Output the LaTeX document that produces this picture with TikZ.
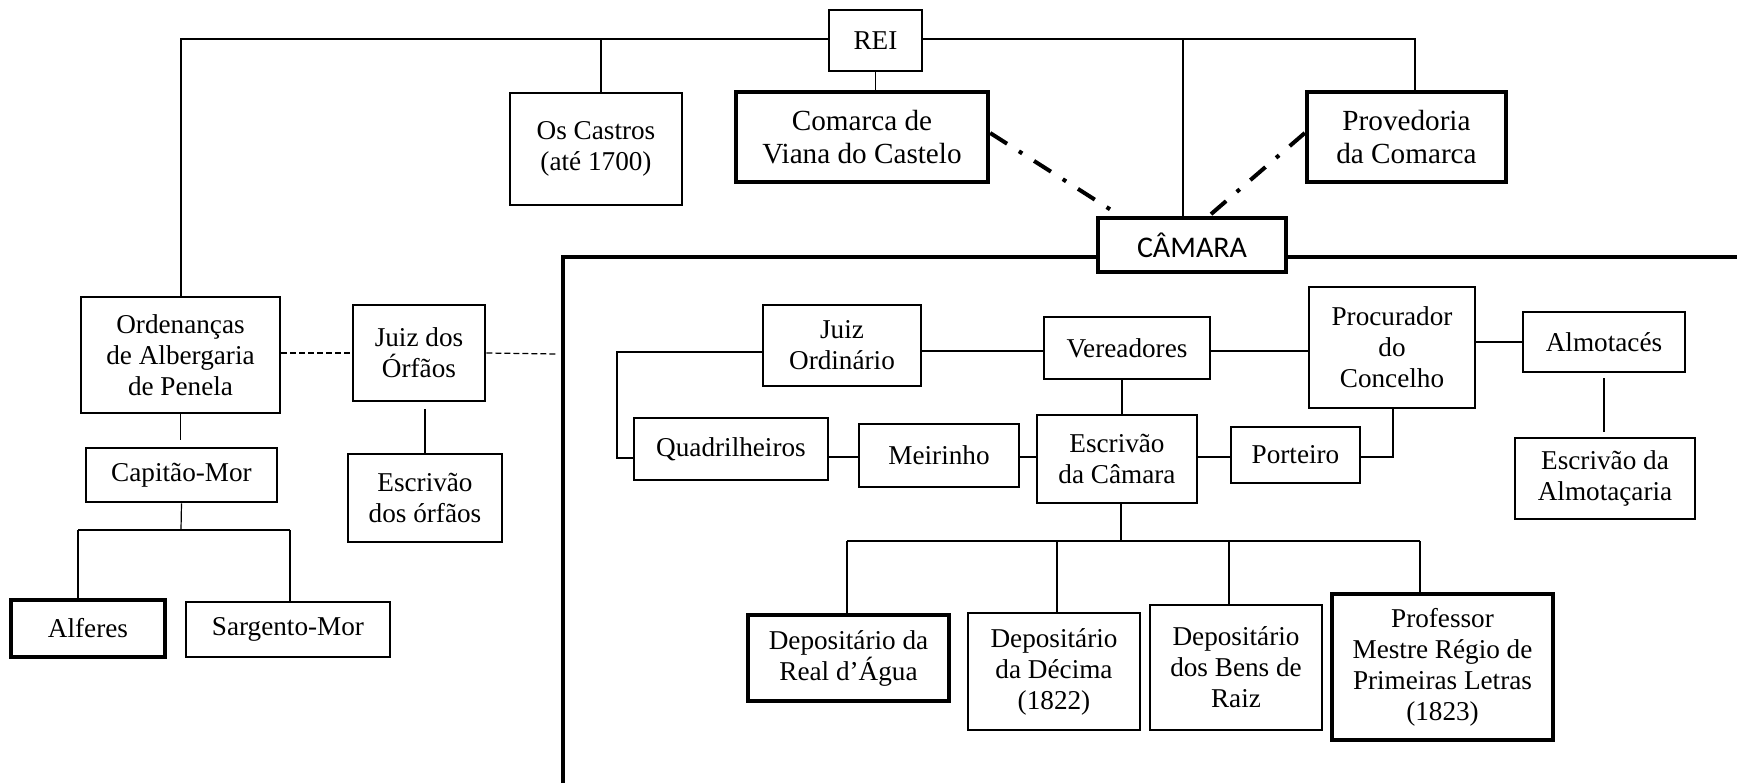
\documentclass[tikz,border=0pt]{standalone}
\usepackage{fontspec}
\setmainfont{Liberation Serif}
\newfontfamily\camfont{Carlito}
\begin{document}
\begin{tikzpicture}[x=0.5pt,y=-0.5pt,
  box/.style={draw, line width=1.3pt, align=center, inner sep=2pt, font=\fontsize{13.6}{15.5}\selectfont},
  thickbox/.style={box, line width=2.2pt},
  bigtext/.style={font=\fontsize{14.6}{16.6}\selectfont},
  sz/.style 2 args={minimum width={#1*0.5pt}, minimum height={#2*0.5pt}},
  conn/.style={line width=0.6pt},
  dline/.style={line width=0.6pt, dash pattern=on 3pt off 1.5pt},
  ddline/.style={line width=2pt, dash pattern=on 10pt off 7pt on 2pt off 7pt},
  frameline/.style={line width=1.8pt}]
\useasboundingbox (0,0) rectangle (1737,783);

% top level
\node[box, sz={93}{61}] (rei) at (875.5,40.5) {REI};
\node[box, sz={172}{112}] (castros) at (596,149) {Os Castros\\(até 1700)};
\node[thickbox, bigtext, sz={252}{90}] (comarca) at (862,137) {Comarca de\\Viana do Castelo};
\node[thickbox, bigtext, sz={199}{90}] (prov) at (1406.5,137) {Provedoria\\da Comarca};
\node[box, line width=2pt, sz={188}{54}, font=\camfont\fontsize{15}{17}\selectfont] (cam) at (1192,245) {CÂMARA};

% left part
\node[box, sz={199}{116}] (ord) at (180.5,355) {Ordenanças\\de Albergaria\\de Penela};
\node[box, sz={132}{96}] (jorf) at (419,353) {Juiz dos\\Órfãos};
\node[box, sz={191}{54}] (cap) at (181.5,475) {Capitão-Mor};
\node[box, sz={154}{88}] (escorf) at (425,498) {Escrivão\\dos órfãos};
\node[thickbox, sz={154}{57}] (alf) at (88,628.5) {Alferes};
\node[box, sz={204}{55}] (sarg) at (288,629.5) {Sargento-Mor};

% câmara internals
\node[box, sz={158}{81}] (jord) at (842,345.5) {Juiz\\Ordinário};
\node[box, sz={166}{62}] (ver) at (1127,348) {Vereadores};
\node[box, sz={166}{121}] (proc) at (1392,347.5) {Procurador\\do\\Concelho};
\node[box, sz={162}{60}] (almo) at (1604,342) {Almotacés};
\node[box, sz={180}{81}] (escalm) at (1605,478.5) {Escrivão da\\Almotaçaria};
\node[box, sz={194}{62}] (quad) at (731,449) {Quadrilheiros};
\node[box, sz={160}{63}] (meir) at (939,455.5) {Meirinho};
\node[box, sz={160}{88}] (esccam) at (1117,459) {Escrivão\\da Câmara};
\node[box, sz={129}{56}] (port) at (1295.5,455) {Porteiro};
\node[thickbox, sz={201}{86}] (real) at (848.5,658) {Depositário da\\Real d’Água};
\node[box, sz={172}{117}] (decima) at (1054,671.5) {Depositário\\da Décima\\(1822)};
\node[box, sz={172}{125}] (bens) at (1236,667.5) {Depositário\\dos Bens de\\Raiz};
\node[thickbox, sz={221}{146}] (prof) at (1442.5,667) {Professor\\Mestre Régio de\\Primeiras Letras\\(1823)};

% coordinates
\coordinate (tl) at (181,39);
\coordinate (tc) at (601,39);
\coordinate (tk) at (1183,39);
\coordinate (tr) at (1415,39);
\coordinate (fr) at (563,257);
\coordinate (frb) at (563,783);
\coordinate (fre) at (1737,257);
\coordinate (dj) at (557,354);
\coordinate (capj) at (181,530);
\coordinate (alfj) at (78,530);
\coordinate (sarj) at (290,530);
\coordinate (yA) at (0,351);
\coordinate (bk1) at (617,352);
\coordinate (bk2) at (617,458);
\coordinate (yB) at (0,457);
\coordinate (pp) at (1393,457);
\coordinate (vx) at (1122,0);
\coordinate (ex) at (1121,541);
\coordinate (d1) at (847,541);
\coordinate (d2) at (1057,541);
\coordinate (d3) at (1229,541);
\coordinate (d4) at (1420,541);
\coordinate (ca1) at (1119,215);
\coordinate (ca2) at (1210,215);
\coordinate (cs) at (990,133);
\coordinate (ps) at (1305,133);

% REI connections
\draw[conn] (rei.west |- tl) -- (tl) -- (tl |- ord.north);
\draw[conn] (rei.east |- tr) -- (tr) -- (tr |- prov.north);
\draw[conn] (tc) -- (tc |- castros.north);
\draw[conn] (tk) -- (tk |- cam.north);
\draw[conn] (rei.south) -- (rei.south |- comarca.north);

% dash-dot links
\draw[ddline] (comarca.east |- cs) -- (ca1);
\draw[ddline] (prov.west |- ps) -- (ca2);

% frame
\draw[frameline] (frb) -- (fr) -- (fr -| cam.west);
\draw[frameline] (fr -| cam.east) -- (fre);

% left part links
\draw[dline] (ord.east |- jorf.west) -- (jorf.west);
\draw[dline] (jorf.east) -- (dj);
\draw[conn, shorten >=3.5pt] (ord.south) -- (ord.south |- cap.north);
\draw[conn, shorten <=3.5pt] (escorf.north |- jorf.south) -- (escorf.north);
\draw[conn] (cap.south) -- (capj);
\draw[conn] (alfj) -- (sarj);
\draw[conn] (alfj) -- (alfj |- alf.north);
\draw[conn] (sarj) -- (sarj |- sarg.north);

% câmara internal links
\draw[conn] (jord.east |- yA) -- (ver.west |- yA);
\draw[conn] (ver.east |- yA) -- (proc.west |- yA);
\draw[conn] (proc.east |- almo.west) -- (almo.west);
\draw[conn, shorten <=2.5pt, shorten >=2.5pt] (almo.south) -- (almo.south |- escalm.north);
\draw[conn] (jord.west |- bk1) -- (bk1) -- (bk2) -- (bk2 -| quad.west);
\draw[conn] (quad.east |- yB) -- (meir.west |- yB);
\draw[conn] (meir.east |- yB) -- (esccam.west |- yB);
\draw[conn] (esccam.east |- yB) -- (port.west |- yB);
\draw[conn] (port.east |- pp) -- (pp) -- (pp |- proc.south);
\draw[conn] (vx |- ver.south) -- (vx |- esccam.north);
\draw[conn] (esccam.south -| ex) -- (ex);
\draw[conn] (d1) -- (d4);
\draw[conn] (d1) -- (d1 |- real.north);
\draw[conn] (d2) -- (d2 |- decima.north);
\draw[conn] (d3) -- (d3 |- bens.north);
\draw[conn] (d4) -- (d4 |- prof.north);
\end{tikzpicture}
\end{document}
